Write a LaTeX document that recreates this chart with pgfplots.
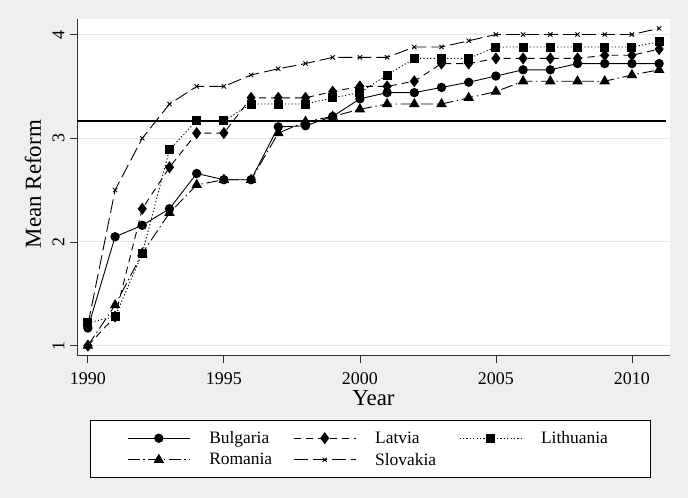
\documentclass[border=0pt]{standalone}
\usepackage{fontspec}
\setmainfont{Liberation Serif}
\usepackage{pgfplots}
\usepackage{pgfplotstable}
\pgfplotsset{compat=1.18}

\definecolor{regionbg}{RGB}{239,239,239}
\definecolor{gridgray}{RGB}{232,232,232}
\definecolor{axisgray}{RGB}{50,50,50}

% Mean reform index by year
\pgfplotstableread{
year bul  lat  lit  rom  svk
1990 1.17 1.00 1.22 1.00 1.20
1991 2.05 1.28 1.28 1.39 2.50
1992 2.16 2.32 1.89 1.89 3.00
1993 2.32 2.72 2.89 2.28 3.33
1994 2.66 3.05 3.17 2.55 3.50
1995 2.60 3.05 3.17 2.60 3.50
1996 2.60 3.39 3.33 2.60 3.61
1997 3.11 3.39 3.33 3.05 3.67
1998 3.12 3.39 3.33 3.16 3.72
1999 3.21 3.45 3.39 3.21 3.78
2000 3.38 3.50 3.44 3.28 3.78
2001 3.44 3.50 3.61 3.33 3.78
2002 3.44 3.55 3.77 3.33 3.88
2003 3.49 3.72 3.77 3.33 3.88
2004 3.54 3.72 3.77 3.39 3.94
2005 3.60 3.77 3.88 3.45 4.00
2006 3.66 3.77 3.88 3.55 4.00
2007 3.66 3.77 3.88 3.55 4.00
2008 3.72 3.77 3.88 3.55 4.00
2009 3.72 3.80 3.88 3.55 4.00
2010 3.72 3.80 3.88 3.61 4.00
2011 3.72 3.86 3.93 3.66 4.06
}\reform

\newcommand{\entry}[1]{\makebox[70bp][l]{#1}}

\begin{document}
\begin{tikzpicture}
\fill[regionbg] (0,0) rectangle (688bp,498bp);
\begin{axis}[
  at={(77bp,142bp)}, anchor=south west,
  scale only axis, width=593bp, height=337bp,
  xmin=1989.6, xmax=2011.4, ymin=0.9, ymax=4.15,
  axis x line*=bottom, axis y line*=left,
  axis line style={axisgray, line width=1bp, -},
  axis background/.style={fill=white},
  xtick={1990,1995,...,2010}, ytick={1,2,3,4},
  tick align=outside, major tick length=7bp,
  tick style={axisgray, line width=0.8bp},
  ymajorgrids, grid style={gridgray, line width=1bp},
  /pgf/number format/assume math mode=true,
  /pgf/number format/1000 sep={},
  ticklabel style={font=\fontsize{18}{20}\selectfont},
  xticklabel style={yshift=-6bp},
  yticklabel={\rotatebox{90}{\pgfmathprintnumber{\tick}}},
  yticklabel style={anchor=east, xshift=-2bp},
  xlabel={Year}, ylabel={Mean Reform},
  label style={font=\fontsize{23}{26}\selectfont},
  xlabel style={at={(axis description cs:0.5,0)}, anchor=center, yshift=-42bp},
  ylabel style={at={(axis description cs:0,0.51)}, anchor=center, yshift=44bp},
  legend columns=3,
  legend style={at={(axis description cs:0.0219,-0.19)}, anchor=north west,
    draw=black, fill=white, line width=0.8bp,
    font=\fontsize{17.5}{20}\selectfont,
    inner xsep=37bp, inner ysep=9bp,
    /tikz/every even column/.append style={column sep=12bp},
    /tikz/every odd column/.append style={column sep=17bp},
    row sep=4bp},
  legend cell align=left,
  legend image code/.code={
    \draw[mark repeat=2, mark phase=2, #1]
      plot coordinates {(0bp,0bp) (31bp,0bp) (62bp,0bp)};},
  every axis plot/.append style={black, line width=0.9bp},
]
% reference level
\addplot[black, line width=2.3bp, forget plot] coordinates {(1989.6,3.165) (2011.25,3.165)};

\addplot[solid, mark=*, mark size=4.2bp, mark options={solid, fill=black}]
  table[x=year, y=bul] {\reform};
\addlegendentry{\entry{Bulgaria}}
\addplot[dash pattern=on 7bp off 5bp, mark=diamond*, mark size=5.3bp, mark options={solid, fill=black}]
  table[x=year, y=lat] {\reform};
\addlegendentry{\entry{Latvia}}
\addplot[dash pattern=on 1.2bp off 2.2bp, mark=square*, mark size=4bp, mark options={solid, fill=black}]
  table[x=year, y=lit] {\reform};
\addlegendentry{\entry{Lithuania}}
\addplot[dash pattern=on 12bp off 3.5bp on 1.5bp off 3.5bp, mark=triangle*, mark size=5.2bp, mark options={solid, fill=black}]
  table[x=year, y=rom] {\reform};
\addlegendentry{\entry{Romania}}
\addplot[dash pattern=on 14bp off 5bp, mark=x, mark size=3bp, mark options={solid}]
  table[x=year, y=svk] {\reform};
\addlegendentry{\entry{Slovakia}}
\end{axis}
\end{tikzpicture}
\end{document}
